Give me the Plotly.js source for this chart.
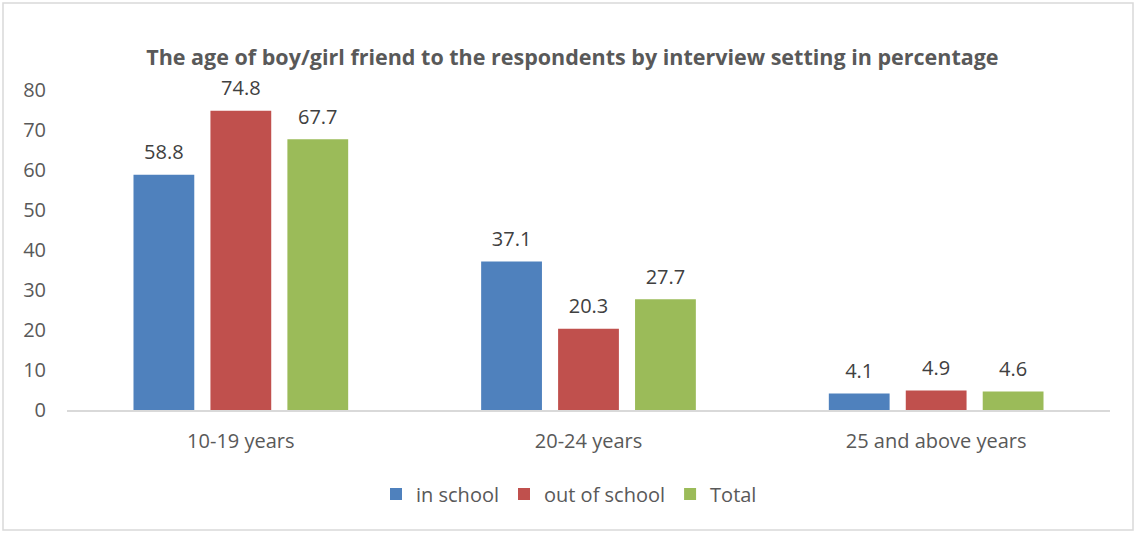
<!DOCTYPE html>
<html>
<head>
<meta charset="utf-8">
<script src="https://cdn.plot.ly/plotly-3.0.1.min.js"></script>
<style>
html,body{margin:0;padding:0;background:#fff;}
#chart{width:1138px;height:534px;}
</style>
</head>
<body>
<div id="chart"></div>
<script>
const categories = ["10-19 years", "20-24 years", "25 and above years"];
const inSchool = [58.8, 37.1, 4.1];
const outOfSchool = [74.8, 20.3, 4.9];
const total = [67.7, 27.7, 4.6];
const seriesNames = ["in school", "out of school", "Total"];
const yTicks = [0, 10, 20, 30, 40, 50, 60, 70, 80];

const colors = ["#4F81BD", "#C0504D", "#9BBB59"];
const font = "Open Sans, Liberation Sans, sans-serif";
const txtColor = "#595959";
const gap = 0.336;

const series = [inSchool, outOfSchool, total];
const bars = series.map((vals, i) => ({
  type: "bar",
  name: seriesNames[i],
  x: categories,
  y: vals,
  marker: {color: colors[i]},
  hoverinfo: "x+y+name"
}));
const labels = series.map((vals, i) => ({
  type: "scatter",
  mode: "markers+text",
  name: seriesNames[i] + " label",
  showlegend: false,
  x: categories,
  y: vals,
  marker: {size: 15, opacity: 0},
  text: vals.map(v => v.toFixed(1)),
  textposition: "top center",
  cliponaxis: false,
  textfont: {family: font, size: 20, color: "#404040"},
  hoverinfo: "skip"
}));

const layout = {
  width: 1138,
  height: 534,
  paper_bgcolor: "#fff",
  plot_bgcolor: "#fff",
  margin: {l: 67, r: 28, t: 90, b: 124},
  barmode: "group",
  scattermode: "group",
  bargap: gap,
  scattergap: gap,
  bargroupgap: 0.21,
  title: {
    text: "<b>The age of boy/girl friend to the respondents by interview setting in percentage</b>",
    font: {family: font, size: 21.5, color: txtColor},
    x: 0.503, xanchor: "center", xref: "container",
    y: 1 - 57/534, yref: "container", yanchor: "middle"
  },
  xaxis: {
    showline: true, linecolor: "#d9d9d9", linewidth: 2,
    showgrid: false, zeroline: false,
    ticks: "", ticklabelstandoff: 12,
    tickfont: {family: font, size: 20, color: txtColor}
  },
  yaxis: {
    range: [0, 80],
    tickvals: yTicks,
    showline: false, showgrid: false, zeroline: false,
    ticks: "", ticklabelstandoff: 20,
    tickfont: {family: font, size: 20, color: txtColor}
  },
  legend: {
    orientation: "h",
    x: 0.5, xref: "container", xanchor: "center",
    y: 1 - 494/534, yref: "container", yanchor: "middle",
    font: {family: font, size: 20, color: txtColor},
    traceorder: "normal"
  },
  shapes: [{
    type: "rect", xref: "paper", yref: "paper",
    x0: -64/1043, x1: 1 + 23/1043, y0: -120/320, y1: 1 + 87/320,
    line: {color: "#d9d9d9", width: 1.5}
  }],
  showlegend: true
};

Plotly.newPlot("chart", bars.concat(labels), layout, {displayModeBar: false, staticPlot: true});
</script>
</body>
</html>
